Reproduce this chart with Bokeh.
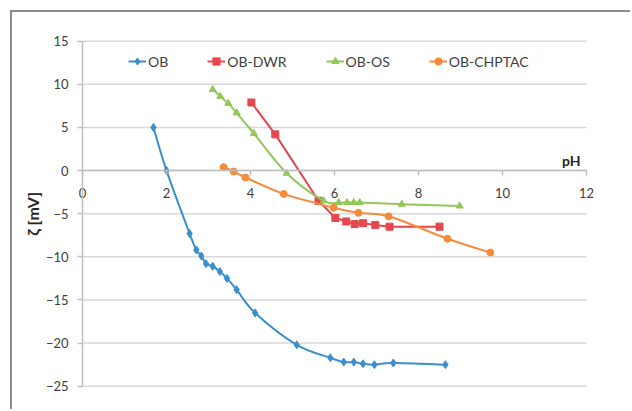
from bokeh.plotting import figure
from bokeh.models import Legend, LegendItem, Label, Range1d, FixedTicker
from bokeh.embed import file_html
from bokeh.resources import INLINE

# ---- data ----
ob_x = [1.69, 2.0, 2.55, 2.71, 2.83, 2.94, 3.1, 3.27, 3.44, 3.67, 4.11, 5.1, 5.9, 6.22, 6.46, 6.68, 6.95, 7.4, 8.64]
ob_y = [5.0, 0.0, -7.3, -9.2, -9.9, -10.8, -11.1, -11.7, -12.5, -13.8, -16.5, -20.2, -21.7, -22.2, -22.2, -22.4, -22.5, -22.3, -22.5]

dwr_x = [4.02, 4.59, 5.62, 6.02, 6.28, 6.48, 6.68, 6.97, 7.31, 8.5]
dwr_y = [7.9, 4.2, -3.5, -5.5, -5.9, -6.2, -6.1, -6.3, -6.5, -6.5]

os_x = [3.1, 3.28, 3.47, 3.67, 4.08, 4.86, 5.74, 6.1, 6.3, 6.46, 6.6, 7.6, 8.98]
os_y = [9.4, 8.6, 7.8, 6.7, 4.3, -0.3, -3.5, -3.7, -3.7, -3.7, -3.7, -3.9, -4.1]

ch_x = [3.36, 3.6, 3.88, 4.79, 5.98, 6.57, 7.29, 8.69, 9.71]
ch_y = [0.4, -0.1, -0.8, -2.7, -4.3, -4.9, -5.3, -7.9, -9.5]

series_names = ["OB", "OB-DWR", "OB-OS", "OB-CHPTAC"]
x_ticks = [0, 2, 4, 6, 8, 10, 12]
y_ticks = [-25, -20, -15, -10, -5, 0, 5, 10, 15]

BLUE, RED, GREEN, ORANGE = "#3A8FCB", "#E5474F", "#93C757", "#F68B3C"
AXIS_GRAY = "#BFBFBF"
GRID_GRAY = "#D9D9D9"
FONT = "Lato"
NAN = float("nan")

# frame fills the canvas; visible axis area is x 0..12, y -25..15
p = figure(width=620, height=399, output_backend="svg", toolbar_location=None,
           x_range=Range1d(-1.667, 13.095), y_range=Range1d(-27.93, 18.33),
           min_border_left=0, min_border_right=0, min_border_top=0, min_border_bottom=0)
p.margin = (10, 0, 0, 10)
p.styles = {"border-left": "2px solid #8C8C8C", "border-top": "2px solid #8C8C8C"}
p.outline_line_color = None
p.background_fill_color = "white"
p.border_fill_color = "white"
p.xgrid.visible = False
p.ygrid.visible = False

# horizontal gridlines across the axis span
p.segment(x0=x_ticks[0], x1=x_ticks[-1], y0=y_ticks, y1=y_ticks,
          line_color=GRID_GRAY, line_width=1.5)

# axes crossing at the origin
for ax in (p.xaxis, p.yaxis):
    ax.fixed_location = 0
    ax.axis_line_color = AXIS_GRAY
    ax.axis_line_width = 1.5
    ax.major_tick_line_color = AXIS_GRAY
    ax.major_tick_line_width = 1.5
    ax.major_tick_out = 5
    ax.major_tick_in = 0
    ax.minor_tick_line_color = None
    ax.major_label_text_font = FONT
    ax.major_label_text_font_size = "13px"
    ax.major_label_text_color = "#404040"

p.xaxis.ticker = FixedTicker(ticks=x_ticks)
p.xaxis.bounds = (x_ticks[0], x_ticks[-1])
p.xaxis.major_label_standoff = 12

p.yaxis.ticker = FixedTicker(ticks=y_ticks)
p.yaxis.bounds = (y_ticks[0], y_ticks[-1])
p.yaxis.major_label_standoff = 9
p.yaxis.axis_label = "ζ [mV]"
p.yaxis.axis_label_text_font = FONT
p.yaxis.axis_label_text_font_style = "bold"
p.yaxis.axis_label_text_font_size = "16px"
p.yaxis.axis_label_text_color = "#262626"
p.yaxis.axis_label_standoff = 1


def smooth(xs, ys):
    n = len(xs)
    x0, y0, x1, y1, cx0, cy0, cx1, cy1 = [], [], [], [], [], [], [], []
    for i in range(n - 1):
        pxm = xs[i - 1] if i > 0 else xs[i]
        pym = ys[i - 1] if i > 0 else ys[i]
        pxp = xs[i + 2] if i + 2 < n else xs[i + 1]
        pyp = ys[i + 2] if i + 2 < n else ys[i + 1]
        x0.append(xs[i]); y0.append(ys[i]); x1.append(xs[i + 1]); y1.append(ys[i + 1])
        cx0.append(xs[i] + (xs[i + 1] - pxm) / 6.0)
        cy0.append(ys[i] + (ys[i + 1] - pym) / 6.0)
        cx1.append(xs[i + 1] - (pxp - xs[i]) / 6.0)
        cy1.append(ys[i + 1] - (pyp - ys[i]) / 6.0)
    return dict(x0=x0, y0=y0, x1=x1, y1=y1, cx0=cx0, cy0=cy0, cx1=cx1, cy1=cy1)


def legend_line(color):
    return p.line(x=[NAN], y=[NAN], line_color=color, line_width=2)

items = []

# OB (smoothed)
p.bezier(line_color=BLUE, line_width=2, **smooth(ob_x, ob_y))
m1 = p.scatter(ob_x, ob_y, marker="diamond", size=8, color=BLUE)
items.append(LegendItem(label=series_names[0], renderers=[legend_line(BLUE), m1]))

# OB-DWR (straight)
l2 = p.line(dwr_x, dwr_y, line_color=RED, line_width=2)
m2 = p.scatter(dwr_x, dwr_y, marker="square", size=7, color=RED)
items.append(LegendItem(label=series_names[1], renderers=[l2, m2]))

# OB-OS (smoothed)
p.bezier(line_color=GREEN, line_width=2, **smooth(os_x, os_y))
m3 = p.scatter(os_x, os_y, marker="triangle", size=7, color=GREEN)
items.append(LegendItem(label=series_names[2], renderers=[legend_line(GREEN), m3]))

# OB-CHPTAC (smoothed)
p.bezier(line_color=ORANGE, line_width=2, **smooth(ch_x, ch_y))
m4 = p.scatter(ch_x, ch_y, marker="circle", size=7, color=ORANGE)
items.append(LegendItem(label=series_names[3], renderers=[legend_line(ORANGE), m4]))

legend = Legend(items=items, orientation="horizontal", location=(116, 341),
                glyph_width=18, glyph_height=18, label_standoff=2, spacing=39,
                padding=0, margin=0, border_line_color=None, background_fill_alpha=0,
                label_text_font=FONT, label_text_font_size="14px", label_text_color="#404040")
p.add_layout(legend, "center")

p.add_layout(Label(x=x_ticks[-1], y=0, x_offset=-6, y_offset=2, text="pH", text_align="right",
                   text_baseline="bottom", text_font=FONT, text_font_style="bold",
                   text_font_size="14px", text_color="#262626"))

open("out.html", "w").write(file_html(p, INLINE))
